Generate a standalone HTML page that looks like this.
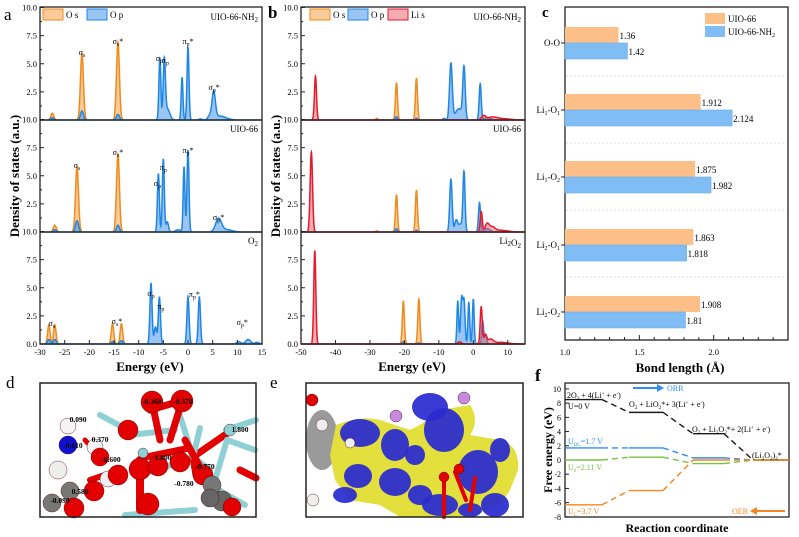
<!DOCTYPE html>
<html><head><meta charset="utf-8"><style>
html,body{margin:0;padding:0;background:#fff;}
svg{display:block;font-family:"Liberation Serif",serif;}
</style></head><body>
<svg id="s" width="799" height="537" viewBox="0 0 799 537" xmlns="http://www.w3.org/2000/svg">
<rect width="799" height="537" fill="#fff"/>
<g id="g"></g>
<text x="4" y="20" font-size="17">a</text>
<text x="268" y="18" font-size="17" font-weight="bold">b</text>
<text x="542" y="17" font-size="15" font-weight="bold">c</text>
<text x="6" y="388" font-size="17">d</text>
<text x="270" y="388" font-size="17">e</text>
<text x="535" y="381" font-size="17" font-weight="bold">f</text>
<text transform="translate(19,176) rotate(-90)" text-anchor="middle" font-size="13" font-weight="bold">Density of states (a.u.)</text>
<text transform="translate(280,176) rotate(-90)" text-anchor="middle" font-size="13" font-weight="bold">Density of states (a.u.)</text>
<text x="150" y="371" text-anchor="middle" font-size="13" font-weight="bold">Energy (eV)</text>
<text x="412" y="371" text-anchor="middle" font-size="13" font-weight="bold">Energy (eV)</text>
<text x="680" y="372" text-anchor="middle" font-size="13" font-weight="bold">Bond length (Å)</text>
<text x="677" y="532" text-anchor="middle" font-size="12" font-weight="bold">Reaction coordinate</text>
<text transform="translate(552,450) rotate(-90)" text-anchor="middle" font-size="12" font-weight="bold">Free energy (eV)</text>
</svg>
<script>
const NS="http://www.w3.org/2000/svg";
const G=document.getElementById('g');
function el(t,a,txt){const e=document.createElementNS(NS,t);for(const k in a)e.setAttribute(k,a[k]);if(txt!==undefined)e.innerHTML=txt;G.appendChild(e);return e;}
function dens(peaks,x){let s=0;for(const p of peaks){const sg=p[2]||0.3;s+=p[1]*Math.exp(-0.5*((x-p[0])/sg)**2);}return s;}
function series(X,e0,e1,base,sc,peaks,stroke,fill){
  let d=`M${X(e0)},${base}`;
  for(let e=e0;e<=e1;e+=0.04){const v=Math.min(dens(peaks,e),10.2);d+=` L${X(e).toFixed(2)},${(base-v*sc).toFixed(2)}`;}
  d+=` L${X(e1)},${base} Z`;
  el('path',{d,fill,stroke,'stroke-width':1.5});
}
const OS=['#f08a1c','rgba(248,160,70,0.55)'],OP=['#1f86e6','rgba(70,150,235,0.55)'],LI=['#e41a2c','rgba(240,90,100,0.5)'];
const sc=11.25;
const Xa=e=>40+(e+30)*222/45;
const aData=[
 {base:120,os:[[-27.5,0.6],[-21.5,5.9],[-14.2,6.9]],op:[[-27.5,0.2],[-21.5,0.8],[-14.2,0.5],[-5.7,5.5,0.2],[-4.8,5.1,0.22],[-4.2,1.0,0.5],[-1.2,3.8,0.18],[0,6.5,0.2],[5.2,2.4,0.35],[6.5,0.35,1.2],[4.3,0.3,0.3],[2.5,0.1,0.3]],lab:'UIO-66-NH<tspan font-size="7" dy="2">2</tspan>'},
 {base:232,os:[[-27,0.6],[-22.5,5.8],[-14.2,6.9]],op:[[-27,0.2],[-22.5,1.0],[-14.2,0.6],[-6,5.2,0.2],[-5,6.5,0.2],[-4.2,0.9,0.25],[-2,0.2,0.5],[-0.8,5.8,0.18],[0,7.3,0.2],[6.2,1.2,0.6],[8,0.2,1]],lab:'UIO-66'},
 {base:344,os:[[-28.2,1.7,0.25],[-27,1.7,0.25],[-15.3,1.8,0.25],[-13.5,1.8,0.25]],op:[[-28.2,0.4],[-27,0.4],[-15.3,0.2],[-13.5,0.3],[-7.5,5.4,0.22],[-6.6,1.5,0.25],[-5.8,4.2,0.22],[0,4.2,0.22],[2.3,4.2,0.22],[10.3,0.2,0.4],[12.2,0.4,0.5],[14,0.15,0.4]],lab:'O<tspan font-size="7" dy="2">2</tspan>'}
];
for(const p of aData){series(Xa,-30,15,p.base,sc,p.os,...OS);series(Xa,-30,15,p.base,sc,p.op,...OP);
 el('text',{x:258,y:p.base-100,'text-anchor':'end','font-size':9},p.lab);}
const sub=(t,s,star)=>`${t}<tspan font-size="6" dy="2">${s}</tspan>${star?'<tspan dy="-2">*</tspan>':''}`;
[[Xa(-21.5),55,'σ','s',0],[Xa(-14.2),44,'σ','s',1],[Xa(-5.8),61,'σ','p',0],[Xa(-4.6),63,'π','p',0],[Xa(0),44,'π','p',1],[Xa(5.3),90,'σ','p',1],
 [Xa(-22.5),168,'σ','s',0],[Xa(-14.2),155,'σ','s',1],[Xa(-6.2),186,'σ','p',0],[Xa(-5),170,'π','p',0],[Xa(0),153,'π','p',1],[Xa(6.2),220,'σ','p',1],
 [Xa(-27.6),326,'σ','s',0],[Xa(-14.4),324,'σ','s',1],[Xa(-7.5),296,'σ','p',0],[Xa(-5.5),309,'π','p',0],[Xa(1.3),297,'π','p',1],[Xa(11),325,'σ','p',1]
].forEach(a=>el('text',{x:a[0],y:a[1],'text-anchor':'middle','font-size':8},sub(a[2],a[3],a[4])));
const Xb=e=>301+(e+50)*224/65;
const bData=[
 {base:120,li:[[-45.8,3.9,0.3],[3,0.35,0.6],[5.5,0.25,1.5],[9,0.1,2]],os:[[-28,0.15],[-22.3,3.3,0.3],[-16.5,3.7,0.3]],op:[[-22.3,0.3],[-16.5,0.15],[-8.5,0.15],[-6.5,5.0,0.4],[-4.2,1.0,1.0],[-2.7,4.5,0.35],[2,3.2,0.3],[4,0.2,1]],lab:'UIO-66-NH<tspan font-size="7" dy="2">2</tspan>'},
 {base:232,li:[[-47,7.1,0.35],[2.3,1.8,0.3],[4,0.7,0.6],[5.5,0.4,0.8],[8,0.15,2]],os:[[-28,0.1],[-22.3,3.3,0.3],[-16.5,3.7,0.3]],op:[[-22.3,0.3],[-16.5,0.15],[-6.5,4.7,0.35],[-5,0.9,0.4],[-3.7,0.7,0.8],[-2.7,5.1,0.3],[1.8,2.6,0.3],[4,0.3,0.8]],lab:'UIO-66'},
 {base:344,li:[[-46,8.3,0.3],[2.3,3.3,0.3],[3.5,0.8,0.4],[5,0.4,0.8],[8,0.15,2],[-4,0.2,0.5]],os:[[-20.3,3.8,0.3],[-15.8,4.0,0.3]],op:[[-20.3,0.2],[-15.8,0.1],[-4.5,3.8,0.25],[-3.4,4.0,0.3],[-2.7,3.8,0.3],[-1.3,3.7,0.25],[0,4.0,0.25],[2.7,2.0,0.25],[3.5,0.8,0.35]],lab:'Li<tspan font-size="7" dy="2">2</tspan>O<tspan font-size="7" dy="2">2</tspan>'}
];
for(const p of bData){series(Xb,-50,15,p.base,sc,p.os,...OS);series(Xb,-50,15,p.base,sc,p.op,...OP);series(Xb,-50,15,p.base,sc,p.li,...LI);
 el('text',{x:521,y:p.base-100,'text-anchor':'end','font-size':9},p.lab);}
function axesDOS(x0,x1,ticks,X){
 el('rect',{x:x0,y:7,width:x1-x0,height:337,fill:'none',stroke:'#222','stroke-width':1.3});
 for(const b of [120,232]) el('line',{x1:x0,x2:x1,y1:b,y2:b,stroke:'#222','stroke-width':1.3});
 for(const b of [120,232,344]){
  for(let v=0;v<=10;v+=1.25){const y=b-v*sc;const major=(v%2.5===0);
   el('line',{x1:x0,x2:x0+(major?4:2),y1:y,y2:y,stroke:'#222'});
   if(major&&!(v===0&&b!==344)) el('text',{x:x0-3,y:y+3,'text-anchor':'end','font-size':8.5},v===10?'10.0':v.toFixed(1));}
 }
 for(const t of ticks){el('line',{x1:X(t),x2:X(t),y1:344,y2:340,stroke:'#222'});el('text',{x:X(t),y:355,'text-anchor':'middle','font-size':8.5},t);}
}
axesDOS(40,262,[-30,-25,-20,-15,-10,-5,0,5,10,15],Xa);
axesDOS(301,525,[-50,-40,-30,-20,-10,0,10],Xb);
el('rect',{x:43,y:9,width:20,height:11,fill:OS[1],stroke:OS[0]});el('text',{x:66,y:18,'font-size':9},'O s');
el('rect',{x:87,y:9,width:20,height:11,fill:OP[1],stroke:OP[0]});el('text',{x:110,y:18,'font-size':9},'O p');
el('rect',{x:310,y:9,width:20,height:11,fill:OS[1],stroke:OS[0]});el('text',{x:333,y:18,'font-size':9},'O s');
el('rect',{x:348,y:9,width:20,height:11,fill:OP[1],stroke:OP[0]});el('text',{x:371,y:18,'font-size':9},'O p');
el('rect',{x:388,y:9,width:20,height:11,fill:LI[1],stroke:LI[0]});el('text',{x:411,y:18,'font-size':9},'Li s');
const Xc=v=>565+(v-1)*148.7;
el('rect',{x:565,y:7,width:223,height:333,fill:'none',stroke:'#222','stroke-width':1.3});
[76,143,210,277].forEach(y=>el('line',{x1:566,x2:787,y1:y,y2:y,stroke:'#ddd','stroke-dasharray':'2,2'}));
const cats=[['O-O',1.36,1.42,'1.36','1.42',43],['Li<tspan font-size="6" dy="2">1</tspan><tspan dy="-2">-O</tspan><tspan font-size="6" dy="2">1</tspan>',1.912,2.124,'1.912','2.124',110],
['Li<tspan font-size="6" dy="2">1</tspan><tspan dy="-2">-O</tspan><tspan font-size="6" dy="2">2</tspan>',1.875,1.982,'1.875','1.982',177],
['Li<tspan font-size="6" dy="2">2</tspan><tspan dy="-2">-O</tspan><tspan font-size="6" dy="2">1</tspan>',1.863,1.818,'1.863','1.818',245],
['Li<tspan font-size="6" dy="2">2</tspan><tspan dy="-2">-O</tspan><tspan font-size="6" dy="2">2</tspan>',1.908,1.81,'1.908','1.81',312]];
for(const c of cats){const y=c[5];
 el('rect',{x:565,y:y-16,width:Xc(c[1])-565,height:16,fill:'#fcbf88'});
 el('rect',{x:565,y:y,width:Xc(c[2])-565,height:16,fill:'#80bdf5',stroke:'#6aaeee','stroke-width':0.6});
 el('text',{x:Xc(c[1])+1,y:y-4,'font-size':9},c[3]);el('text',{x:Xc(c[2])+1,y:y+12,'font-size':9},c[4]);
 el('text',{x:560,y:y+3,'text-anchor':'end','font-size':9},c[0]);el('line',{x1:565,x2:561,y1:y,y2:y,stroke:'#222'});}
for(let v=1;v<=2.5;v+=0.1){const x=Xc(v);const mj=Math.abs(v*2-Math.round(v*2))<1e-6;el('line',{x1:x,x2:x,y1:340,y2:mj?335:337,stroke:'#222'});
 if(mj) el('text',{x,y:355,'text-anchor':'middle','font-size':8.5},v.toFixed(1));}
el('rect',{x:705,y:13,width:20,height:11,fill:'#fcbf88'});el('text',{x:728,y:22,'font-size':9},'UIO-66');
el('rect',{x:705,y:26,width:20,height:11,fill:'#80bdf5'});el('text',{x:728,y:35,'font-size':9},'UIO-66-NH<tspan font-size="6" dy="2">2</tspan>');
const Yf=v=>460-7.11*v;
el('rect',{x:565,y:383,width:224,height:134,fill:'none',stroke:'#222','stroke-width':1.3});
for(let v=-8;v<=10;v+=2){el('line',{x1:565,x2:569,y1:Yf(v),y2:Yf(v),stroke:'#222'});el('text',{x:561,y:Yf(v)+3,'text-anchor':'end','font-size':8},v);}
function lv(c,lev){const xs=[[565,602],[629,663],[693,724],[753,789]];
 for(let i=0;i<4;i++){el('line',{x1:xs[i][0],x2:xs[i][1],y1:Yf(lev[i]),y2:Yf(lev[i]),stroke:c,'stroke-width':1.4});
  if(i<3) el('line',{x1:xs[i][1],x2:xs[i+1][0],y1:Yf(lev[i]),y2:Yf(lev[i+1]),stroke:c,'stroke-width':1.4,'stroke-dasharray':'6,4'});}}
lv('#1a1a1a',[8.5,6.7,3.7,0]);lv('#2f8ff0',[1.7,1.7,0.3,0]);lv('#7ac143',[0,0.4,-0.5,0]);lv('#f7841e',[-6.3,-4.3,0,0]);
el('text',{x:567,y:398,'font-size':8},'2O<tspan font-size="5" dy="2">2</tspan><tspan dy="-2"> + 4(Li</tspan><tspan font-size="5" dy="-3">+</tspan><tspan dy="3"> + e</tspan><tspan font-size="5" dy="-3">-</tspan><tspan dy="3">)</tspan>');
el('text',{x:568,y:409,'font-size':8},'U=0 V');
el('text',{x:629,y:407,'font-size':8},'O<tspan font-size="5" dy="2">2</tspan><tspan dy="-2"> + LiO</tspan><tspan font-size="5" dy="2">2</tspan><tspan dy="-2">*+ 3(Li</tspan><tspan font-size="5" dy="-3">+</tspan><tspan dy="3"> + e</tspan><tspan font-size="5" dy="-3">-</tspan><tspan dy="3">)</tspan>');
el('text',{x:692,y:432,'font-size':8},'O<tspan font-size="5" dy="2">2</tspan><tspan dy="-2"> + Li</tspan><tspan font-size="5" dy="2">2</tspan><tspan dy="-2">O</tspan><tspan font-size="5" dy="2">2</tspan><tspan dy="-2">*+ 2(Li</tspan><tspan font-size="5" dy="-3">+</tspan><tspan dy="3"> + e</tspan><tspan font-size="5" dy="-3">-</tspan><tspan dy="3">)</tspan>');
el('text',{x:752,y:458,'font-size':8},'(Li<tspan font-size="5" dy="2">2</tspan><tspan dy="-2">O</tspan><tspan font-size="5" dy="2">2</tspan><tspan dy="-2">)</tspan><tspan font-size="5" dy="2">2</tspan><tspan dy="-2">*</tspan>');
el('text',{x:568,y:444,'font-size':8,fill:'#2f8ff0'},'U<tspan font-size="5" dy="2">DC</tspan><tspan dy="-2">=1.7 V</tspan>');
el('text',{x:568,y:470,'font-size':8,fill:'#7ac143'},'U<tspan font-size="5" dy="2">0</tspan><tspan dy="-2">=2.11 V</tspan>');
el('text',{x:568,y:514,'font-size':8,fill:'#f7841e'},'U<tspan font-size="5" dy="2">C</tspan><tspan dy="-2">=3.7 V</tspan>');
el('line',{x1:633,x2:658,y1:388,y2:388,stroke:'#2f8ff0','stroke-width':2});el('path',{d:'M657,384 L664,388 L657,392Z',fill:'#2f8ff0'});
el('text',{x:667,y:391,'font-size':8,fill:'#2f8ff0'},'ORR');
el('line',{x1:756,x2:785,y1:511,y2:511,stroke:'#f7841e','stroke-width':2});el('path',{d:'M757,507 L750,511 L757,515Z',fill:'#f7841e'});
el('text',{x:732,y:514,'font-size':8,fill:'#f7841e'},'OER');
// panel d
function bond(x1,y1,x2,y2,c,w){el('line',{x1,y1,x2,y2,stroke:c,'stroke-width':w||6,'stroke-linecap':'round'});}
function atom(x,y,r,c){el('circle',{cx:x,cy:y,r,fill:c,stroke:'#400','stroke-width':0.4});}
const cy='#8fd0d4',rd='#e30000';
bond(193,457,152,472,cy);bond(193,457,232,430,rd,7);bond(193,457,200,428,cy);bond(193,457,175,400,cy);bond(193,457,196,475,rd,7);bond(193,457,210,470,cy);
bond(146,457,185,449,rd,7);bond(130,435,175,430,cy);bond(185,440,210,485,rd,7);bond(125,515,195,510,cy);bond(210,485,245,505,cy);
bond(227,440,255,450,cy);bond(227,440,215,480,cy);bond(240,470,256,478,rd,7);bond(150,410,184,400,rd,7);bond(152,402,160,440,rd,7);bond(182,401,170,440,rd,7);
bond(100,415,128,430,cy);bond(85,440,100,457,rd,5);bond(140,460,140,510,rd,8);bond(90,480,120,470,rd,6);bond(226,430,256,420,cy);
atom(152,402,11,rd);atom(182,401,11,rd);atom(128,430,10,rd);atom(68,426,8,'#f4f4f4');atom(68,445,9,'#1010d0');atom(95,447,8,'#f4f4f4');
atom(140,469,11,rd);atom(94,491,10,rd);atom(70,491,9,'#777');atom(58,470,9,'#eee');atom(52,503,9,'#777');atom(74,508,10,rd);
atom(108,479,8,'#eee');atom(118,475,10,rd);atom(148,504,11,rd);atom(180,462,10,rd);atom(158,466,10,rd);atom(100,457,9,rd);
atom(203,475,10,rd);atom(212,485,9,'#777');atom(222,501,10,'#666');atom(232,507,9,rd);atom(210,498,9,'#666');
atom(143,453,5,cy);atom(230,430,6,cy);
[[152,404,'-0.360'],[183,404,'-0.370'],[78,422,'0.090'],[73,448,'-0.610'],[100,442,'0.370'],[111,462,'-0.600'],[163,460,'1.800'],[205,469,'-0.770'],[240,432,'1.800'],[184,486,'-0.780'],[80,494,'0.580'],[60,503,'-0.090']].forEach(t=>el('text',{x:t[0],y:t[1],'font-size':7.5,'font-weight':'bold','text-anchor':'middle'},t[2]));
el('rect',{x:40,y:383,width:216,height:134,fill:'none',stroke:'#222','stroke-width':1.5});
// panel e
el('rect',{x:306,y:383,width:217,height:134,fill:'#fff'});
[[322,440,16,30,'#9a9a9a']].forEach(a=>el('ellipse',{cx:a[0],cy:a[1],rx:a[2],ry:a[3],fill:a[4]}));
el('path',{d:'M336,425 Q360,415 380,420 L410,430 Q430,420 440,410 L470,405 Q480,420 470,435 L500,440 Q520,445 518,470 L510,490 L500,505 L470,517 L400,517 L380,505 L350,500 L335,480 L330,455 Z',fill:'#e3df3c'});
[[360,433,20,14],[395,445,14,16],[430,407,18,14],[444,430,20,22],[478,472,20,22],[358,476,14,12],[395,482,16,14],[420,495,12,10],[440,505,18,11],[495,505,14,12],[345,495,12,8],[415,455,10,10],[500,450,10,12],[470,510,12,7]].forEach(a=>el('ellipse',{cx:a[0],cy:a[1],rx:a[2],ry:a[3],fill:'#2a2ad0',opacity:0.93}));
atom(312,400,6,rd);atom(322,425,6,'#eee');atom(350,443,5,'#eee');atom(313,500,6,'#eee');atom(464,398,6,'#c88ae0');atom(396,416,6,'#c88ae0');
bond(444,480,444,517,rd,4);bond(455,472,466,500,rd,4);bond(475,478,470,510,rd,4);atom(444,477,5,rd);atom(459,469,5,rd);
el('rect',{x:306,y:383,width:217,height:134,fill:'none',stroke:'#222','stroke-width':1.5});
</script>
</body></html>
